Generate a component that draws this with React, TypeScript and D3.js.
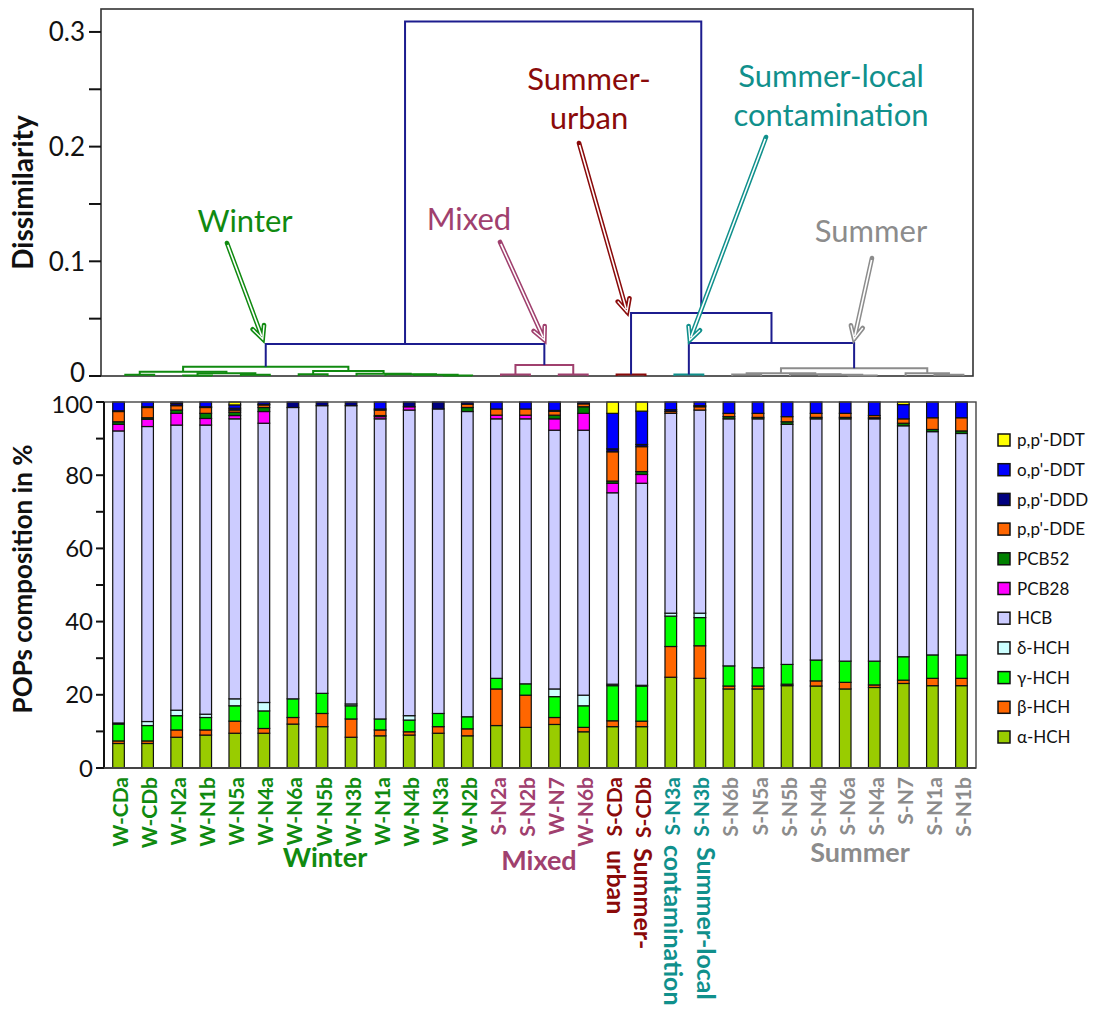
import React from "react";
import * as d3 from "d3";

// ---------- DATA ----------
const sampleNames = ["W-CDa","W-CDb","W-N2a","W-N1b","W-N5a","W-N4a","W-N6a","W-N5b","W-N3b","W-N1a","W-N4b","W-N3a","W-N2b","S-N2a","S-N2b","W-N7","W-N6b","S-CDa","S-CDb","S-N3a","S-N3b","S-N6b","S-N5a","S-N5b","S-N4b","S-N6a","S-N4a","S-N7","S-N1a","S-N1b"];
const sampleGroups = ["Winter","Winter","Winter","Winter","Winter","Winter","Winter","Winter","Winter","Winter","Winter","Winter","Winter","Mixed","Mixed","Mixed","Mixed","Urban","Urban","Local","Local","Summer","Summer","Summer","Summer","Summer","Summer","Summer","Summer","Summer"];

const seriesKeys = ["α-HCH","β-HCH","γ-HCH","δ-HCH","HCB","PCB28","PCB52","p,p'-DDE","p,p'-DDD","o,p'-DDT","p,p'-DDT"];
const seriesColors = ["#99cc00","#ff6600","#00ff00","#ccffff","#ccccff","#ff00ff","#008000","#ff6600","#000080","#0000ff","#ffff00"];

const alphaHCH = [6.7,6.7,8.4,9.0,9.5,9.5,12.0,11.3,8.4,8.8,9.0,9.5,8.8,11.6,11.1,11.9,9.9,11.3,11.3,24.8,24.5,21.6,21.6,22.5,22.4,21.6,22.0,23.1,22.5,22.5];
const betaHCH = [0.7,0.7,2.0,1.4,3.3,1.3,1.8,3.6,5.0,1.6,0.9,1.8,1.9,10.0,8.8,1.9,1.2,1.6,1.5,8.4,8.9,0.8,0.8,0.4,1.4,1.8,0.7,0.9,2.0,2.0];
const gammaHCH = [4.6,4.2,3.9,3.4,4.2,4.8,5.1,5.5,3.6,3.0,3.2,3.6,3.3,2.9,3.1,5.7,5.9,9.6,9.6,8.3,7.7,5.5,5.0,5.4,5.7,5.8,6.5,6.4,6.4,6.4];
const deltaHCH = [0.3,1.1,1.5,0.9,1.9,2.3,0,0,0.5,0,1.2,0,0,0,0,2.1,2.9,0.4,0.2,0.8,1.2,0,0,0,0,0,0,0,0,0];
const hcb = [79.8,80.6,77.9,79.0,76.5,76.3,79.6,78.6,81.5,82.0,83.5,83.2,83.4,70.9,72.4,70.7,72.4,52.3,55.2,54.6,55.5,67.5,68.0,65.6,65.9,66.2,66.2,63.1,61.0,60.5];
const pcb28 = [1.8,2.0,3.2,1.8,0.9,3.2,0,0,0,0.6,0.9,0,0,1.0,1.0,3.1,4.6,2.6,2.4,0,0,0,0,0,0,0,0,0,0,0];
const pcb52 = [0.7,0.4,0.9,1.4,0.9,1.1,0,0,0,0.3,0,0,1.1,0,0,1.0,1.8,0.6,0.8,0,0,0.6,0.4,0.7,0.4,0.4,0.3,0.7,0.6,0.7];
const ppDDE = [2.8,2.8,1.2,1.6,0.6,0.7,0,0,0,1.5,0,0,0.9,1.7,1.7,1.1,0.8,8.0,6.8,0.5,0.9,0.9,1.1,1.4,1.1,1.1,0.6,1.2,3.2,3.6];
const ppDDD = [0.2,0.2,0.6,0.2,0.5,0.2,1.5,1.0,1.0,0.3,1.3,1.9,0.6,0,0,0.2,0.5,0.8,0.6,0.5,0.3,0,0,0,0,0,0,0,0,0];
const opDDT = [2.4,1.3,0.4,1.3,0.9,0.6,0,0,0,1.9,0,0,0,1.9,1.9,2.3,0,9.7,9.1,2.1,1.0,3.1,3.1,4.0,3.1,3.1,3.7,3.9,4.3,4.3];
const ppDDT = [0,0,0,0,0.8,0,0,0,0,0,0,0,0,0,0,0,0,3.1,2.5,0,0,0,0,0,0,0,0,0.7,0,0];
const seriesValues = [alphaHCH,betaHCH,gammaHCH,deltaHCH,hcb,pcb28,pcb52,ppDDE,ppDDD,opDDT,ppDDT];

// Dendrogram merges (leaves 0..29, merge k creates node 30+k)
const mergeLeft =   [0, 2, 4, 31, 30, 6, 11, 10, 9, 8, 35, 34, 13, 15, 42, 41, 17, 19, 21, 25, 24, 23, 48, 28, 27, 52, 47, 46, 45];
const mergeRight =  [1, 3, 5, 32, 33, 7, 12, 36, 37, 38, 39, 40, 14, 16, 43, 44, 18, 20, 22, 26, 49, 50, 51, 29, 53, 54, 55, 56, 57];
const mergeHeight = [0.001,0.0005,0.001,0.0024,0.0037,0.0015,0.0005,0.001,0.0015,0.002,0.0044,0.0081,0.0012,0.0012,0.0096,0.0279,0.0012,0.0012,0.0012,0.0005,0.001,0.0015,0.0024,0.001,0.0024,0.0067,0.0288,0.0549,0.309];
const mergeGroup = ["Winter","Winter","Winter","Winter","Winter","Winter","Winter","Winter","Winter","Winter","Winter","Winter","Mixed","Mixed","Mixed","top","Urban","Local","Summer","Summer","Summer","Summer","Summer","Summer","Summer","Summer","top","top","top"];

const dendTicksMajor = [0, 0.1, 0.2, 0.3];
const dendTicksMinor = [0.05, 0.15, 0.25];
const barTicksMajor = [0, 20, 40, 60, 80, 100];
const barTicksMinor = [10, 30, 50, 70, 90];

// cluster annotations
const annotLines = [["Winter"], ["Mixed"], ["Summer-", "urban"], ["Summer-local", "contamination"], ["Summer"]];
const annotGroup = ["Winter", "Mixed", "Urban", "Local", "Summer"];
const annotNode = [41, 44, 46, 47, 55];
const annotParent = [45, 45, 57, 56, 56];

// ---------- STYLE ----------
const groupColor: Record<string, string> = {
  top: "#1c1c8e",
  Winter: "#108a10",
  Mixed: "#a0406e",
  Urban: "#8a0a0a",
  Local: "#10908c",
  Summer: "#8c8c8c",
};
const FONT = "Lato, 'Open Sans', sans-serif";

const TOP = { x0: 101, x1: 973, y0: 9, y1: 376 };
const BOT = { x0: 104, x1: 976, y0: 402, y1: 768 };

function Arrow({ x1, y1, x2, y2, color }: { x1: number; y1: number; x2: number; y2: number; color: string }) {
  const a = Math.atan2(y2 - y1, x2 - x1);
  const L = 14, ang = 0.45;
  const h1x = x2 - L * Math.cos(a - ang), h1y = y2 - L * Math.sin(a - ang);
  const h2x = x2 - L * Math.cos(a + ang), h2y = y2 - L * Math.sin(a + ang);
  const d = `M${x1},${y1}L${x2},${y2}M${h1x},${h1y}L${x2},${y2}L${h2x},${h2y}`;
  const sx = x1 + 2 * Math.cos(a), sy = y1 + 2 * Math.sin(a);
  const ex = x2 - 3 * Math.cos(a), ey = y2 - 3 * Math.sin(a);
  const d2 = `M${sx},${sy}L${ex},${ey}`;
  return (
    <g>
      <path d={d} fill="none" stroke={color} strokeWidth={4.6} strokeLinecap="round" strokeLinejoin="miter" />
      <path d={d2} fill="none" stroke="#fff" strokeWidth={1.6} />
      <path d={`M${h1x},${h1y}L${x2},${y2}L${h2x},${h2y}`} fill="none" stroke="#fff" strokeWidth={1.4} strokeLinejoin="miter" />
    </g>
  );
}

export default function App() {
  const n = sampleNames.length;

  // ---- dendrogram ----
  const dendY = d3.scaleLinear().domain([0, 0.32]).range([TOP.y1, TOP.y0]);
  const leafX = d3.scaleLinear().domain([0, n - 1]).range([125.3, 963.4]);
  const nodeX: number[] = d3.range(n).map((i) => leafX(i));
  const nodeH: number[] = d3.range(n).map(() => 0);
  mergeLeft.forEach((l, k) => {
    const r = mergeRight[k];
    nodeX.push((nodeX[l] + nodeX[r]) / 2);
    nodeH.push(mergeHeight[k]);
  });
  const links = mergeLeft.map((l, k) => {
    const r = mergeRight[k];
    const y = dendY(mergeHeight[k]);
    return {
      d: `M${nodeX[l]},${dendY(nodeH[l])}V${y}H${nodeX[r]}V${dendY(nodeH[r])}`,
      color: groupColor[mergeGroup[k]],
      top: mergeGroup[k] === "top",
    };
  });

  // ---- stacked bars ----
  const rows = sampleNames.map((_, i) => {
    const r: Record<string, number> = {};
    seriesKeys.forEach((k, j) => (r[k] = seriesValues[j][i]));
    return r;
  });
  const layers = d3.stack<Record<string, number>>().keys(seriesKeys).offset(d3.stackOffsetExpand)(rows);
  const xBand = d3.scaleBand<number>().domain(d3.range(n)).range([BOT.x0, BOT.x1]).paddingInner(0.6).paddingOuter(0.3);
  const barY = d3.scaleLinear().domain([0, 100]).range([BOT.y1, BOT.y0]);

  const legendY = d3.scalePoint<number>().domain(d3.range(seriesKeys.length)).range([440, 737]);

  const annotStart = [
    { x: 227, y: 243 },
    { x: 500, y: 242 },
    { x: 579, y: 143 },
    { x: 766, y: 137 },
    { x: 872, y: 258 },
  ];
  const annotText = [
    { x: 245, y: 232 },
    { x: 469, y: 230 },
    { x: 589, y: 90 },
    { x: 831, y: 87 },
    { x: 871, y: 242 },
  ];
  const tipDx = [-3, 0, -4, 1, 0];
  const tipDy = [-5, -4, -1, -3, -4];

  return (
    <svg width={1094} height={1009} style={{ position: "absolute", left: 0, top: 0, display: "block", background: "#fff" }} fontFamily={FONT}>
      <rect x={0} y={0} width={1094} height={1009} fill="#fff" />
      {/* ===== TOP PANEL ===== */}
      <rect x={TOP.x0} y={TOP.y0} width={TOP.x1 - TOP.x0} height={TOP.y1 - TOP.y0} fill="none" stroke="#333" strokeWidth={1.6} />
      {links.filter((l) => !l.top).map((l, i) => (
        <path key={"l" + i} d={l.d} fill="none" stroke={l.color} strokeWidth={2} />
      ))}
      {links.filter((l) => l.top).map((l, i) => (
        <path key={"t" + i} d={l.d} fill="none" stroke={l.color} strokeWidth={2} />
      ))}
      {dendTicksMajor.concat(dendTicksMinor).map((t) => (
        <line key={"dt" + t} x1={TOP.x0 - 12} x2={TOP.x0} y1={dendY(t)} y2={dendY(t)} stroke="#111" strokeWidth={2} />
      ))}
      {dendTicksMajor.map((t) => (
        <text key={"dl" + t} x={TOP.x0 - 16} y={dendY(t)} dy={t === 0 ? "0.22em" : "0.36em"} textAnchor="end" fontSize={26} fill="#111">
          {t === 0 ? "0" : d3.format(".1f")(t)}
        </text>
      ))}
      <text transform={`translate(33,${(TOP.y0 + TOP.y1) / 2 + 0}) rotate(-90)`} textAnchor="middle" fontSize={28} fontWeight="bold" fill="#111">
        Dissimilarity
      </text>

      {/* annotations */}
      {annotLines.map((lines, i) => {
        const c = groupColor[annotGroup[i]];
        const tipX = nodeX[annotNode[i]] + tipDx[i];
        const tipY = dendY(nodeH[annotParent[i]]) + tipDy[i];
        return (
          <g key={"a" + i}>
            {lines.map((ln, j) => (
              <text key={j} x={annotText[i].x} y={annotText[i].y + j * 39} textAnchor="middle" fontSize={31} fill={c}>
                {ln}
              </text>
            ))}
            <Arrow x1={annotStart[i].x} y1={annotStart[i].y} x2={tipX} y2={tipY} color={c} />
          </g>
        );
      })}

      {/* ===== BOTTOM PANEL ===== */}
      {layers.map((layer, j) => (
        <g key={"s" + j}>
          {layer.map((d, i) =>
            d[1] - d[0] > 0 ? (
              <rect
                key={i}
                x={xBand(i)}
                width={xBand.bandwidth()}
                y={barY(d[1] * 100)}
                height={barY(d[0] * 100) - barY(d[1] * 100)}
                fill={seriesColors[j]}
                stroke="#111"
                strokeWidth={1.2}
              />
            ) : null
          )}
        </g>
      ))}
      <rect x={BOT.x0} y={BOT.y0} width={BOT.x1 - BOT.x0} height={BOT.y1 - BOT.y0} fill="none" stroke="#444" strokeWidth={1.4} />
      <line x1={BOT.x0} x2={BOT.x0} y1={BOT.y0} y2={BOT.y1} stroke="#111" strokeWidth={2} />
      <line x1={BOT.x0} x2={BOT.x1} y1={BOT.y1} y2={BOT.y1} stroke="#444" strokeWidth={2} />
      {barTicksMajor.concat(barTicksMinor).map((t) => (
        <line key={"bt" + t} x1={BOT.x0 - 8} x2={BOT.x0} y1={barY(t)} y2={barY(t)} stroke="#111" strokeWidth={2} />
      ))}
      {barTicksMajor.map((t) => (
        <text key={"bl" + t} x={BOT.x0 - 11} y={barY(t)} dy={t === 100 ? "0.46em" : "0.36em"} textAnchor="end" fontSize={24} fill="#111">
          {t}
        </text>
      ))}
      <text transform={`translate(32,${(BOT.y0 + BOT.y1) / 2 - 6}) rotate(-90)`} textAnchor="middle" fontSize={26} fontWeight="bold" fill="#111">
        POPs composition in %
      </text>

      {/* sample labels */}
      {sampleNames.map((s, i) => (
        <text
          key={"x" + i}
          transform={`translate(${(xBand(i) as number) + xBand.bandwidth() / 2 + 9.5},777) rotate(-90)`}
          textAnchor="end"
          fontSize={21}
          fontWeight="bold"
          fill={groupColor[sampleGroups[i]]}
        >
          {s}
        </text>
      ))}

      {/* group labels */}
      <text x={325} y={867} textAnchor="middle" fontSize={27} fontWeight="bold" fill={groupColor.Winter}>Winter</text>
      <text x={539} y={870} textAnchor="middle" fontSize={27} fontWeight="bold" fill={groupColor.Mixed}>Mixed</text>
      <text x={860} y={862} textAnchor="middle" fontSize={27} fontWeight="bold" fill={groupColor.Summer}>Summer</text>
      <text transform="translate(607,850) rotate(90)" fontSize={25} fontWeight="bold" fill={groupColor.Urban}>urban</text>
      <text transform="translate(634,848) rotate(90)" fontSize={25} fontWeight="bold" fill={groupColor.Urban}>Summer-</text>
      <text transform="translate(664,845) rotate(90)" fontSize={25} fontWeight="bold" fill={groupColor.Local}>contamination</text>
      <text transform="translate(697,847) rotate(90)" fontSize={25} fontWeight="bold" fill={groupColor.Local}>Summer-local</text>

      {/* legend */}
      {seriesKeys.slice().reverse().map((k, idx) => {
        const j = seriesKeys.length - 1 - idx;
        const y = legendY(idx) as number;
        return (
          <g key={"lg" + k}>
            <rect x={998} y={y - 6} width={12} height={12} fill={seriesColors[j]} stroke="#111" strokeWidth={1.5} />
            <text x={1017} y={y} dy="0.36em" fontSize={17} fill="#111">{k}</text>
          </g>
        );
      })}
    </svg>
  );
}
